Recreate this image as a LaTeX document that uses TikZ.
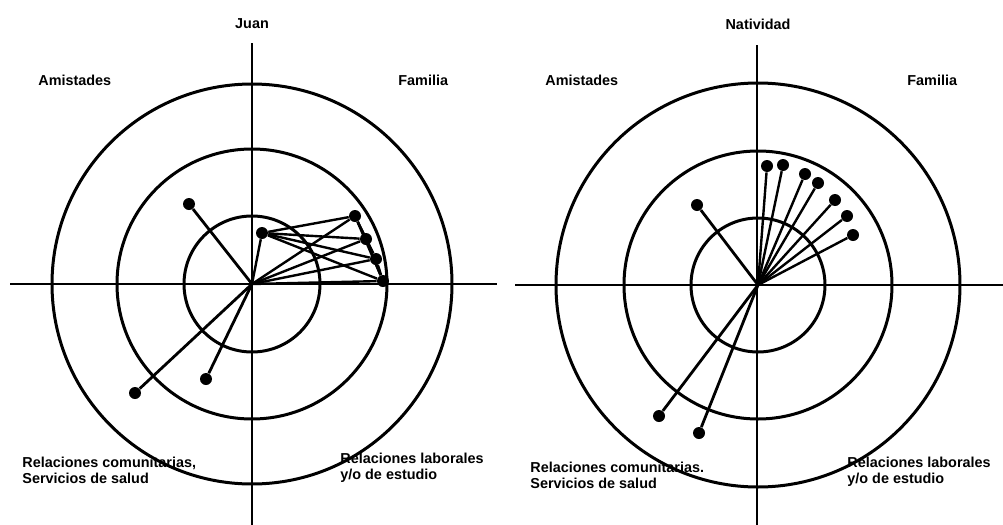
\documentclass[tikz,border=0pt]{standalone}
\usepackage{fontspec}
\setmainfont{Liberation Sans}
\begin{document}
\begin{tikzpicture}[x=0.5pt, y=-0.5pt,
    axis/.style={black, line width=1pt},
    ring/.style={black, line width=1.5pt},
    spoke/.style={black, line width=1.4pt},
    thinspoke/.style={black, line width=1.2pt},
    dot/.style={circle, fill=black, inner sep=0pt, minimum size=6pt},
    lbl/.style={font=\bfseries\fontsize{7.2}{8}\selectfont, align=left, inner sep=0pt}]
    \useasboundingbox (0,0) rectangle (1003,525);

    % Juan: axes and rings
    \coordinate (jc) at (252,284);
    \draw[axis] (10,284) -- (497,284);
    \draw[axis] (252,43) -- (252,525);
    \foreach \r in {68, 135, 200} {
        \draw[ring] (jc) circle[radius=\r];
    }

    % Juan: labels
    \node[lbl, anchor=base] (jtitle) at (252,28) {Juan};
    \node[lbl, anchor=base west] (jami) at (38,85) {Amistades};
    \node[lbl, anchor=base west] (jfam) at (398,85) {Familia};
    \node[lbl, anchor=north west] (jcom) at (22,457) {Relaciones comunitarias,\\Servicios de salud};
    \node[lbl, anchor=north west] (jlab) at (340,453) {Relaciones laborales\\y/o de estudio};

    % Juan: members
    \node[dot] (ja1) at (189,204) {};
    \node[dot] (jb1) at (135,393) {};
    \node[dot] (jb2) at (206,379) {};
    \foreach \n in {ja1, jb1, jb2} {
        \draw[spoke] (jc) -- (\n);
    }
    \foreach \px/\py [count=\i] in {262/233, 355/216, 366/239, 376/259, 383/281} {
        \node[dot] (jf\i) at (\px,\py) {};
        \draw[thinspoke] (jc) -- (jf\i);
    }
    % ties inside the family
    \foreach \a/\b in {1/2, 1/3, 1/4, 1/5, 2/3, 2/4, 2/5, 3/4, 3/5, 4/5} {
        \draw[thinspoke] (jf\a) -- (jf\b);
    }

    % Natividad: axes and rings
    \coordinate (nc) at (758,285);
    \draw[axis] (515,285) -- (1003,285);
    \draw[axis] (757,45) -- (757,525);
    \foreach \r in {67, 134, 202} {
        \draw[ring] (nc) circle[radius=\r];
    }

    % Natividad: labels
    \node[lbl, anchor=base] (ntitle) at (758,29) {Natividad};
    \node[lbl, anchor=base west] (nami) at (545,85) {Amistades};
    \node[lbl, anchor=base west] (nfam) at (907,85) {Familia};
    \node[lbl, anchor=north west] (ncom) at (530,462) {Relaciones comunitarias.\\Servicios de salud};
    \node[lbl, anchor=north west] (nlab) at (847,457) {Relaciones laborales\\y/o de estudio};

    % Natividad: members
    \node[dot] (na1) at (697,205) {};
    \node[dot] (nb1) at (659,416) {};
    \node[dot] (nb2) at (699,433) {};
    \foreach \n in {na1, nb1, nb2} {
        \draw[spoke] (nc) -- (\n);
    }
    \foreach \px/\py [count=\i] in {767/166, 783/165, 805/174, 818/183, 835/200, 847/216, 853/235} {
        \node[dot] (nf\i) at (\px,\py) {};
        \draw[thinspoke] (nc) -- (nf\i);
    }
\end{tikzpicture}
\end{document}
